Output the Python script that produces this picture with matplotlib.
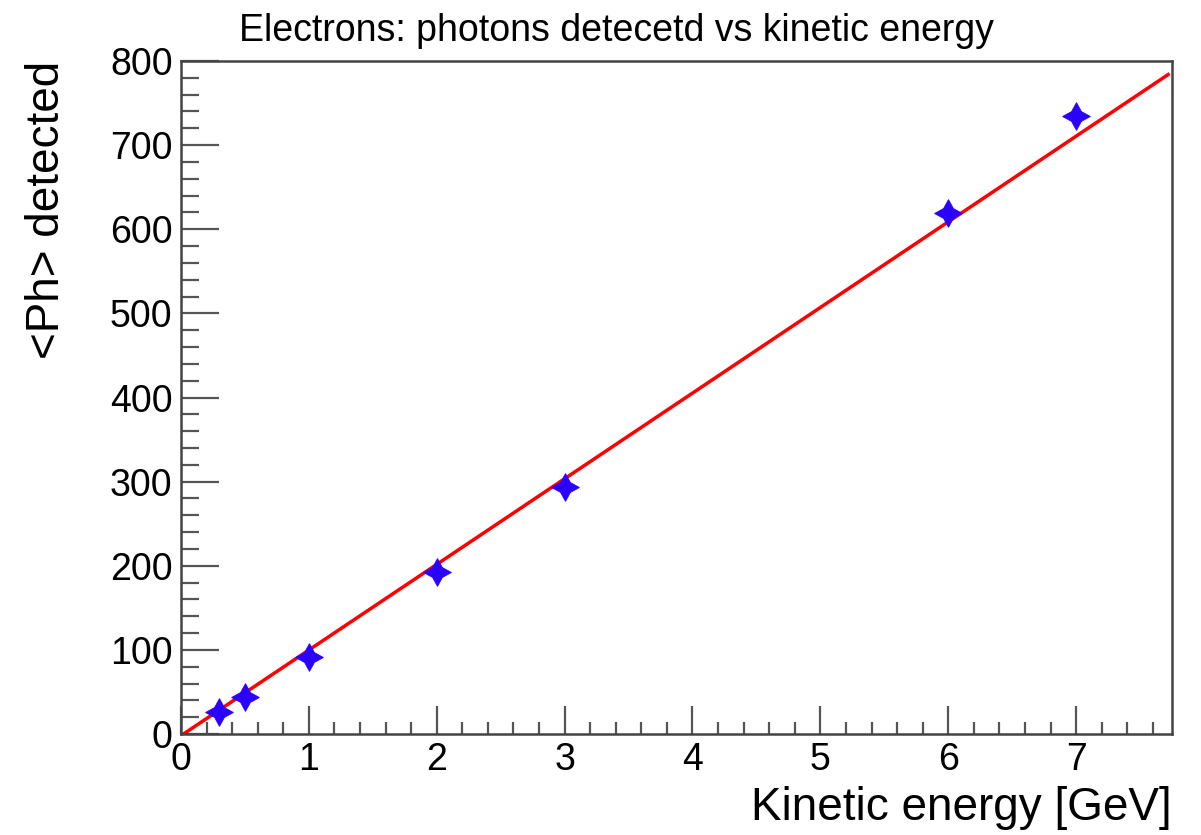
import matplotlib
matplotlib.use("Agg")
import matplotlib.pyplot as plt
import numpy as np
from matplotlib.ticker import MultipleLocator

plt.rcParams['font.family'] = ['Liberation Sans', 'DejaVu Sans']

# Kinetic energy [GeV] and mean number of detected photons
energy = [0.3, 0.5, 1.0, 2.0, 3.0, 6.0, 7.0]
photons = [26, 44, 92, 193, 294, 619, 735]

# Linear fit parameters
fit_slope = 101.8
fit_intercept = -2.0

x_range = (0.0, 7.75)
y_range = (0.0, 800.0)

W, H = 1201, 835
fig = plt.figure(figsize=(W / 100, H / 100), dpi=100)
ax = fig.add_axes([181 / W, 1 - 734 / H, (1172 - 181) / W, (734 - 61) / H])

xf = np.linspace(0.0, x_range[1] - 0.03, 200)
ax.plot(xf, fit_slope * xf + fit_intercept, color='red', lw=2.5, zorder=2)
ax.plot(energy, photons, linestyle='none', marker=(4, 1, 0), markersize=20,
        color='#2a00ff', markeredgewidth=0.6, zorder=3)

ax.set_xlim(*x_range)
ax.set_ylim(*y_range)

ax.xaxis.set_major_locator(MultipleLocator(1))
ax.xaxis.set_minor_locator(MultipleLocator(0.2))
ax.yaxis.set_major_locator(MultipleLocator(100))
ax.yaxis.set_minor_locator(MultipleLocator(20))

for side in ['top', 'right', 'left', 'bottom']:
    ax.spines[side].set_color('#444444')
    ax.spines[side].set_linewidth(1.8)

ax.tick_params(axis='x', which='major', direction='in', length=20, width=1.6,
               color='#555555', labelsize=27, pad=6)
ax.tick_params(axis='x', which='minor', direction='in', length=9, width=1.6,
               color='#555555')
ax.tick_params(axis='y', which='major', direction='in', length=27, width=1.6,
               color='#555555', labelsize=27, pad=6)
ax.tick_params(axis='y', which='minor', direction='in', length=13, width=1.6,
               color='#555555')

fig.text(616 / W, 1 - 41 / H, 'Electrons: photons detecetd vs kinetic energy',
         fontsize=27, ha='center', va='baseline')

ax.set_xlabel('Kinetic energy [GeV]', fontsize=33, ha='right', va='top')
ax.xaxis.set_label_coords(1.0, -0.078)
ax.set_ylabel('<Ph> detected', fontsize=33, ha='right', va='bottom')
ax.yaxis.set_label_coords(-0.113, 1.0)

fig.savefig('out.png', dpi=100)
